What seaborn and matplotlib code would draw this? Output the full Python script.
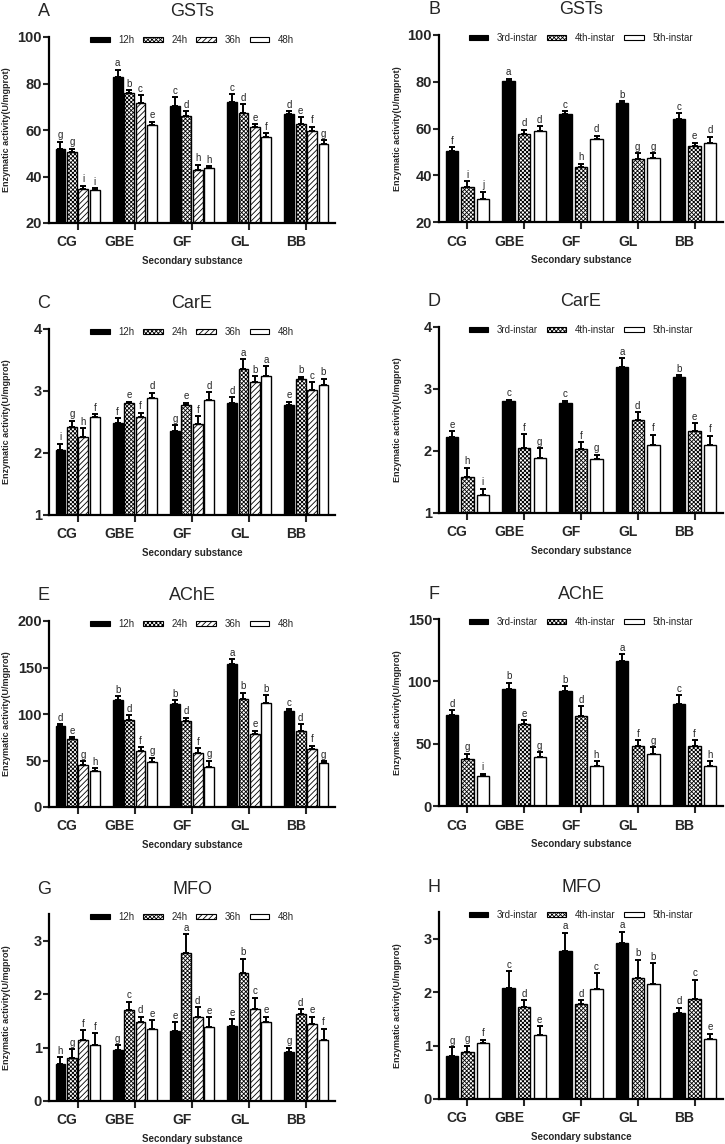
import numpy as np
import pandas as pd
import matplotlib
matplotlib.use('Agg')
import matplotlib.pyplot as plt
import seaborn as sns
from matplotlib.patches import Patch

sns.set_style('ticks')
plt.rcParams['font.family'] = ['Liberation Sans', 'DejaVu Sans']
plt.rcParams['hatch.linewidth'] = 0.6

substances = ['CG', 'GBE', 'GF', 'GL', 'BB']
hours = ['12h', '24h', '36h', '48h']
instars = ['3rd-instar', '4th-instar', '5th-instar']

# one row per substance, one column per group (hours or instars)
# GSTs
gst_time = [[52, 50.5, 34.5, 34], [83, 76, 71.5, 62], [70.5, 66, 43, 43.5],
            [72, 67.5, 61.5, 57], [67, 62.5, 59.5, 54]]
gst_time_err = [[3, 1.5, 1.5, 1], [3, 1, 3.5, 1.5], [3.5, 2, 2, 1],
                [3.5, 3.5, 1, 1.5], [1, 3, 2, 1.5]]
gst_time_sig = ['ggii', 'abce', 'cdhh', 'cdef', 'defg']

gst_instar = [[50.5, 35, 30], [80.5, 57.5, 59], [66, 43.5, 55.5],
              [71, 47, 47.5], [64, 52.5, 54]]
gst_instar_err = [[1.5, 2.5, 3], [0.8, 2, 2], [1.5, 1.5, 1.5],
                  [0.8, 2.5, 2], [2.5, 1.5, 2.5]]
gst_instar_sig = ['fij', 'add', 'chd', 'bgg', 'ced']

# CarE
care_time = [[2.05, 2.42, 2.26, 2.58], [2.48, 2.8, 2.58, 2.88], [2.35, 2.77, 2.47, 2.85],
             [2.8, 3.36, 3.14, 3.25], [2.78, 3.19, 3.01, 3.1]]
care_time_err = [[0.1, 0.1, 0.14, 0.05], [0.08, 0.03, 0.07, 0.09], [0.1, 0.04, 0.12, 0.13],
                 [0.1, 0.15, 0.1, 0.15], [0.05, 0.04, 0.13, 0.1]]
care_time_sig = ['ighf', 'fefd', 'gefd', 'daba', 'ebcb']

care_instar = [[2.22, 1.58, 1.29], [2.8, 2.05, 1.88], [2.78, 2.04, 1.87],
               [3.36, 2.5, 2.09], [3.19, 2.33, 2.1]]
care_instar_err = [[0.1, 0.15, 0.1], [0.03, 0.22, 0.17], [0.03, 0.1, 0.07],
                   [0.14, 0.13, 0.17], [0.03, 0.12, 0.15]]
care_instar_sig = ['ehi', 'cfg', 'cfg', 'adf', 'bef']

# AChE
ache_time = [[87, 73, 45, 39], [115, 94, 60, 48], [111, 92, 58, 43],
             [154, 116, 79, 112], [103, 82, 62, 47]]
ache_time_err = [[2, 2, 4, 3], [4, 5, 4, 5], [4, 4, 5, 7], [5, 7, 3, 8], [2, 7, 4, 2]]
ache_time_sig = ['degh', 'bdfg', 'bdfg', 'abeb', 'cdfg']

ache_instar = [[73, 38, 24], [94, 66, 39], [92, 72, 32], [116, 48, 42], [82, 48, 32]]
ache_instar_err = [[4, 4, 2], [5, 3, 4], [4, 8, 4], [6, 5, 5], [7, 5, 4]]
ache_instar_sig = ['dgi', 'beg', 'bdh', 'afg', 'cfh']

# MFO
mfo_time = [[0.7, 0.8, 1.15, 1.04], [0.95, 1.7, 1.48, 1.35], [1.31, 2.77, 1.57, 1.39],
            [1.41, 2.39, 1.73, 1.48], [0.92, 1.62, 1.45, 1.15]]
mfo_time_err = [[0.12, 0.17, 0.18, 0.23], [0.1, 0.16, 0.1, 0.16], [0.17, 0.35, 0.19, 0.18],
                [0.12, 0.27, 0.2, 0.1], [0.08, 0.1, 0.13, 0.2]]
mfo_time_sig = ['hgff', 'gcde', 'eade', 'ebce', 'gdef']

mfo_instar = [[0.8, 0.88, 1.05], [2.08, 1.72, 1.2], [2.77, 1.77, 2.05],
              [2.92, 2.26, 2.15], [1.61, 1.88, 1.12]]
mfo_instar_err = [[0.17, 0.12, 0.06], [0.31, 0.13, 0.16], [0.34, 0.08, 0.3],
                  [0.21, 0.35, 0.39], [0.1, 0.35, 0.1]]
mfo_instar_sig = ['ggf', 'cde', 'adc', 'abb', 'dce']

# bar look per group: (face colour, hatch)
bar_style = {'12h': ('black', ''), '24h': ('white', 'xxxxxxxx'), '36h': ('white', '//////'),
             '48h': ('white', ''), '3rd-instar': ('black', ''),
             '4th-instar': ('white', 'xxxxxxxx'), '5th-instar': ('white', '')}

W, H = 725, 1144
fig = plt.figure(figsize=(W / 100, H / 100), dpi=100)


def add_ax(x0, x1, y0, y1):
    return fig.add_axes([x0 / W, 1 - y1 / H, (x1 - x0) / W, (y1 - y0) / H])


def draw_panel(ax, groups, vals, errs, sig, ylim, yticks, title, tag):
    df = pd.DataFrame(vals, columns=groups)
    df['substance'] = substances
    df = df.melt(id_vars='substance', var_name='group', value_name='activity')
    n = len(groups)
    sns.barplot(data=df, x='substance', y='activity', hue='group', hue_order=groups,
                order=substances, errorbar=None, width=0.8 if n == 4 else 0.82,
                gap=0.15 if n == 4 else 0.2, saturation=1, legend=False, ax=ax)
    bar_sets = list(ax.containers)
    for i, cont in enumerate(bar_sets):
        face, hatch = bar_style[groups[i]]
        for j, bar in enumerate(cont):
            bar.set_facecolor(face)
            bar.set_hatch(hatch)
            bar.set_edgecolor('black')
            bar.set_linewidth(1)
            x = bar.get_x() + bar.get_width() / 2
            h = bar.get_height()
            e = errs[j][i]
            ax.errorbar(x, h, yerr=[[0], [e]], color='black', lw=1.4,
                        capsize=2, capthick=1.4)
            ax.annotate(sig[j][i], (x, h + e), xytext=(0, 1), textcoords='offset points',
                        ha='center', va='bottom', fontsize=7)

    ax.set_ylim(*ylim)
    ax.set_yticks(yticks)
    ax.set_xlim(-0.5, 4.5)
    sns.despine(ax=ax)
    for s in ['left', 'bottom']:
        ax.spines[s].set_linewidth(1.6)
        ax.spines[s].set_color('black')
    ax.tick_params(axis='y', length=4, width=1.5, labelsize=10.5, pad=1)
    ax.tick_params(axis='x', length=5, width=1.5, labelsize=10, pad=4)
    for lab in ax.get_yticklabels():
        lab.set_fontweight('bold')
    for lab in ax.get_xticklabels():
        lab.set_fontweight('bold')
        lab.set_ha('right')

    bb = ax.get_position()
    wpx, hpx = bb.width * W, bb.height * H
    ax.set_xlabel('Secondary substance', fontsize=7, fontweight='bold', va='center')
    ax.xaxis.set_label_coords(0.5, -38 / hpx)
    ax.set_ylabel('Enzymatic activity(U/mgprot)', fontsize=6.5, fontweight='bold',
                  va='center')
    ax.yaxis.set_label_coords(-42 / wpx, 0.5)

    ax.text(0.5, 1 + 25 / hpx, title, transform=ax.transAxes, ha='center', va='center',
            fontsize=13)
    ax.text(-5 / wpx, 1 + 25 / hpx, tag, transform=ax.transAxes, ha='center', va='center',
            fontsize=13)

    handles = [Patch(facecolor=bar_style[g][0], hatch=bar_style[g][1], edgecolor='black',
                     linewidth=0.8, label=g) for g in groups]
    ax.legend(handles=handles, ncol=n, loc='center', bbox_to_anchor=(0.5, 1 - 3 / hpx),
              frameon=False, fontsize=7, handlelength=2.0, handleheight=0.5,
              handletextpad=0.9, columnspacing=0.9, borderpad=0)


axA = add_ax(49, 335, 37, 223)
axB = add_ax(439, 723, 35, 222)
axC = add_ax(49, 335, 329, 515)
axD = add_ax(439, 723, 327, 513)
axE = add_ax(49, 335, 621, 807)
axF = add_ax(439, 723, 619, 806)
axG = add_ax(49, 335, 914, 1101)
axH = add_ax(439, 723, 912, 1099)

draw_panel(axA, hours, gst_time, gst_time_err, gst_time_sig, (20, 100), [20, 40, 60, 80, 100], 'GSTs', 'A')
draw_panel(axB, instars, gst_instar, gst_instar_err, gst_instar_sig, (20, 100), [20, 40, 60, 80, 100], 'GSTs', 'B')
draw_panel(axC, hours, care_time, care_time_err, care_time_sig, (1, 4), [1, 2, 3, 4], 'CarE', 'C')
draw_panel(axD, instars, care_instar, care_instar_err, care_instar_sig, (1, 4), [1, 2, 3, 4], 'CarE', 'D')
draw_panel(axE, hours, ache_time, ache_time_err, ache_time_sig, (0, 200), [0, 50, 100, 150, 200], 'AChE', 'E')
draw_panel(axF, instars, ache_instar, ache_instar_err, ache_instar_sig, (0, 150), [0, 50, 100, 150], 'AChE', 'F')
draw_panel(axG, hours, mfo_time, mfo_time_err, mfo_time_sig, (0, 3.5), [0, 1, 2, 3], 'MFO', 'G')
draw_panel(axH, instars, mfo_instar, mfo_instar_err, mfo_instar_sig, (0, 3.5), [0, 1, 2, 3], 'MFO', 'H')

fig.savefig('out.png', dpi=100)
